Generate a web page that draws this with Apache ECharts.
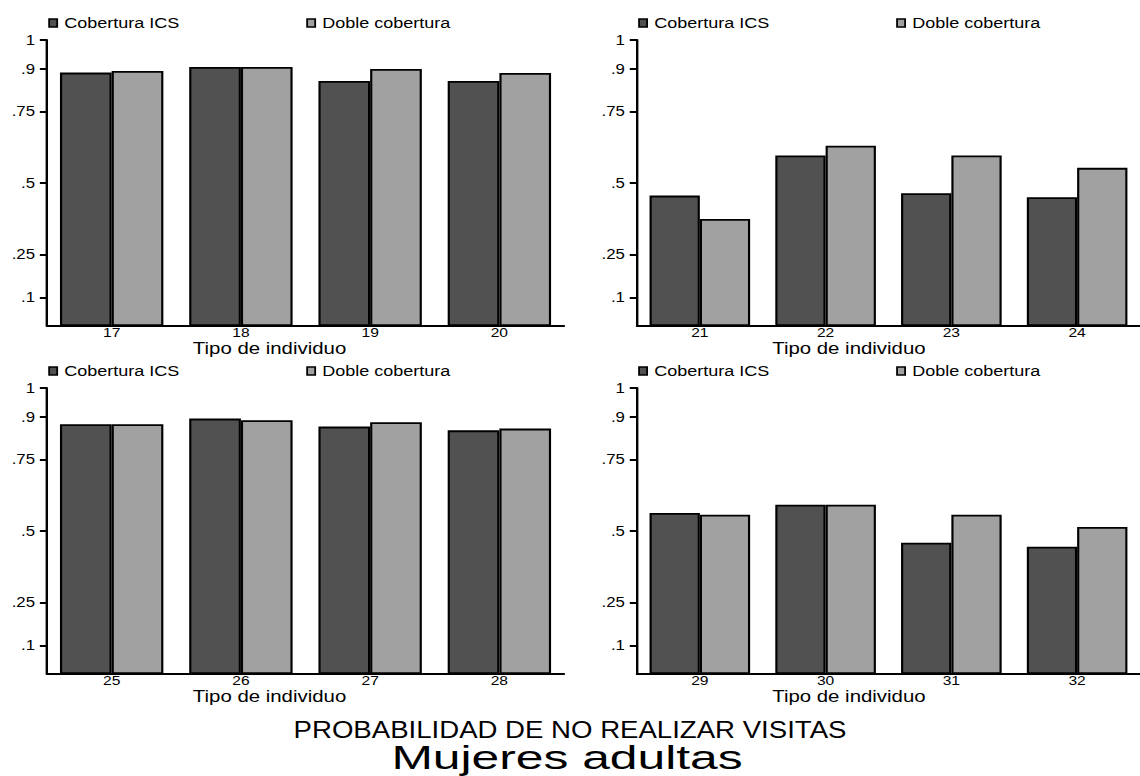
<!DOCTYPE html>
<html>
<head>
<meta charset="utf-8">
<script src="https://cdn.jsdelivr.net/npm/echarts@6/dist/echarts.min.js"></script>
<style>
html,body{margin:0;padding:0;background:#fff;width:1140px;height:776px;overflow:hidden}
#c{width:950px;height:776px;transform:scaleX(1.2);transform-origin:0 0}
</style>
</head>
<body>
<div id="c"></div>
<script>
// ---- data ----
const seriesNames = ['Cobertura ICS', 'Doble cobertura'];
const cats1 = ['17', '18', '19', '20'];
const ics1 = [0.886, 0.906, 0.857, 0.857];
const doble1 = [0.892, 0.906, 0.899, 0.885];
const cats2 = ['21', '22', '23', '24'];
const ics2 = [0.456, 0.596, 0.464, 0.450];
const doble2 = [0.374, 0.630, 0.596, 0.553];
const cats3 = ['25', '26', '27', '28'];
const ics3 = [0.873, 0.893, 0.865, 0.852];
const doble3 = [0.873, 0.887, 0.880, 0.858];
const cats4 = ['29', '30', '31', '32'];
const ics4 = [0.563, 0.592, 0.459, 0.445];
const doble4 = [0.557, 0.592, 0.557, 0.514];
const yTicks = [0.1, 0.25, 0.5, 0.75, 0.9, 1];
const yTickLabels = ['.1', '.25', '.5', '.75', '.9', '1'];
const xTitle = 'Tipo de individuo';
const mainTitle = 'PROBABILIDAD DE NO REALIZAR VISITAS';
const subTitle = 'Mujeres adultas';

// ---- layout (unscaled coords; page is stretched horizontally by 1.2) ----
const FONT = '"Liberation Sans", Arial, Helvetica, sans-serif';
const colors = ['#515151', '#a1a1a1'];
const panels = [
  { cats: cats1, vals: [ics1, doble1], left: 39.2, top: 40, width: 430.8, namePad: 60 },
  { cats: cats2, vals: [ics2, doble2], left: 530.8, top: 40, width: 433.3, namePad: 66 },
  { cats: cats3, vals: [ics3, doble3], left: 39.2, top: 388, width: 430.8, namePad: 60 },
  { cats: cats4, vals: [ics4, doble4], left: 530.8, top: 388, width: 433.3, namePad: 66 }
];
const PH = 286;

const grid = [], xAxis = [], yAxis = [], series = [], legend = [];
panels.forEach((p, i) => {
  grid.push({ left: p.left, top: p.top, width: p.width, height: PH });
  xAxis.push({
    type: 'category', gridIndex: i, data: p.cats,
    axisLine: { lineStyle: { color: '#000', width: 2 } },
    axisTick: { show: false },
    axisLabel: { color: '#000', fontSize: 13, fontFamily: FONT, margin: 0, lineHeight: 12 },
    name: xTitle, nameLocation: 'middle', nameGap: 13,
    nameTextStyle: { color: '#000', fontSize: 17, fontFamily: FONT, lineHeight: 16, padding: [0, p.namePad, 0, 0] }
  });
  yAxis.push({
    type: 'value', gridIndex: i, min: 0, max: 1,
    axisLine: { show: true, lineStyle: { color: '#000', width: 2 } },
    axisTick: { show: true, length: 6, customValues: yTicks, lineStyle: { color: '#000', width: 2 } },
    axisLabel: {
      color: '#000', fontSize: 14, fontFamily: FONT, margin: 10, customValues: yTicks,
      formatter: v => { const k = yTicks.findIndex(t => Math.abs(t - v) < 1e-9); return k >= 0 ? yTickLabels[k] : ''; }
    },
    splitLine: { show: false }
  });
  seriesNames.forEach((nm, s) => {
    series.push({
      name: nm, type: 'bar', xAxisIndex: i, yAxisIndex: i, data: p.vals[s],
      barGap: '0%', barCategoryGap: '20%',
      itemStyle: { color: colors[s], borderColor: '#000', borderWidth: 1.8 },
      emphasis: { disabled: true }
    });
  });
  const legTop = p.top - 25;
  [0, 1].forEach(s => {
    legend.push({
      data: [seriesNames[s]],
      left: p.left + 1 + s * 215, top: legTop, padding: 0,
      icon: 'rect', itemWidth: 6.7, itemHeight: 8,
      itemStyle: { color: colors[s], borderColor: '#000', borderWidth: 1.5 },
      textStyle: { color: '#000', fontSize: 15, fontFamily: FONT, lineHeight: 16, padding: [0, 0, 0, 1] },
      selectedMode: false
    });
  });
});

const option = {
  animation: false,
  backgroundColor: '#fff',
  title: [
    { text: mainTitle, left: 'center', top: 719, padding: 0,
      textStyle: { color: '#000', fontSize: 23, fontWeight: 'normal', fontFamily: FONT, lineHeight: 21 } }
  ],
  graphic: [
    { type: 'text', x: 472.5, y: 757, scaleX: 1.22, originX: 0, originY: 0, silent: true,
      style: { text: subTitle, fill: '#000', font: '34px ' + FONT, textAlign: 'center', textVerticalAlign: 'middle' } }
  ],
  legend, grid, xAxis, yAxis, series
};

const chart = echarts.init(document.getElementById('c'), null, { renderer: 'svg' });
chart.setOption(option);
</script>
</body>
</html>
